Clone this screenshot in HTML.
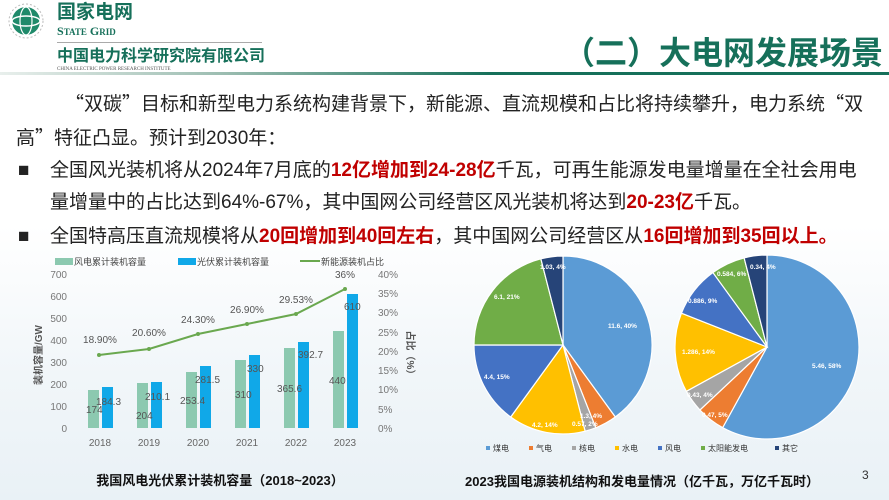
<!DOCTYPE html>
<html><head><meta charset="utf-8">
<style>
html,body{margin:0;padding:0}
body{width:889px;height:500px;position:relative;overflow:hidden;background:linear-gradient(180deg,#fff 0%,#fff 45%,#f1f6f9 75%,#e9f1f6 100%);font-family:"Liberation Sans","Noto Sans CJK SC",sans-serif;color:#222}
.a{position:absolute;white-space:nowrap}
.t{font-size:19px;line-height:20px}
.q{font-family:"Noto Sans CJK SC",sans-serif}
.r{color:#c00000;font-weight:bold}
</style></head><body>
<!-- logo -->
<svg class="a" style="left:6px;top:3px" width="40" height="36"><circle cx="20" cy="18" r="14" fill="#1f8a6a"/><ellipse cx="20" cy="18" rx="14" ry="5" fill="none" stroke="#fff" stroke-width="1.5"/><ellipse cx="20" cy="18" rx="6" ry="14" fill="none" stroke="#fff" stroke-width="1.2"/><circle cx="20" cy="18" r="17" fill="none" stroke="#bbb" stroke-width="1" stroke-dasharray="2 2"/></svg>
<div class="a" style="left:57px;top:2px;font-size:19px;font-weight:bold;color:#16705a;line-height:22px">国家电网</div>
<div class="a" style="left:57px;top:25px;font-size:12px;font-weight:bold;color:#16705a;font-family:'Liberation Serif',serif;line-height:12px">S<span style="font-size:9px">TATE</span> G<span style="font-size:9px">RID</span></div>
<div class="a" style="left:57px;top:42px;width:205px;height:1px;background:#aaa"></div>
<div class="a" style="left:57px;top:48px;font-size:16px;font-weight:bold;color:#16705a;line-height:18px">中国电力科学研究院有限公司</div>
<div class="a" style="left:57px;top:67px;font-size:5px;color:#555;line-height:6px;font-family:'Liberation Serif',serif">CHINA ELECTRIC POWER RESEARCH INSTITUTE</div>
<div class="a" style="left:0;top:72px;width:889px;height:3px;background:linear-gradient(90deg,#e8efec 0%,#9cbdb1 25%,#16705a 55%,#16705a 100%)"></div>
<div class="a" style="left:563px;top:35px;font-size:32px;font-weight:bold;color:#16705a;line-height:36px">（二）大电网发展场景</div>
<!-- text -->
<div class="a t" style="left:65px;top:93px"><span class="q">“</span>双碳<span class="q">”</span>目标和新型电力系统构建背景下，新能源、直流规模和占比将持续攀升，电力系统<span class="q">“</span>双</div>
<div class="a t" style="left:16px;top:127px">高<span class="q">”</span>特征凸显。预计到2030年：</div>
<div class="a t" style="left:18px;top:161px">■</div>
<div class="a t" style="left:50px;top:161px">全国风光装机将从2024年7月底的<span class="r">12亿增加到24-28亿</span>千瓦，可再生能源发电量增量在全社会用电</div>
<div class="a t" style="left:50px;top:193px">量增量中的占比达到64%-67%，其中国网公司经营区风光装机将达到<span class="r">20-23亿</span>千瓦。</div>
<div class="a t" style="left:18px;top:227px">■</div>
<div class="a t" style="left:50px;top:227px">全国特高压直流规模将从<span class="r">20回增加到40回左右</span>，其中国网公司经营区从<span class="r">16回增加到35回以上。</span></div>
<!-- bar chart -->
<svg class="a" style="left:0;top:250px" width="440" height="250" font-family="Liberation Sans,Noto Sans CJK SC,sans-serif">
<rect x="55" y="8" width="18" height="7" fill="#8cc9b0"/><text x="74" y="15" font-size="9" fill="#444">风电累计装机容量</text>
<rect x="178" y="8" width="18" height="7" fill="#10a8e8"/><text x="197" y="15" font-size="9" fill="#444">光伏累计装机容量</text>
<line x1="300" y1="11" x2="320" y2="11" stroke="#6aa84f" stroke-width="2"/><text x="321" y="15" font-size="9" fill="#444">新能源装机占比</text>
<g font-size="10" fill="#777" text-anchor="end">
<text x="67" y="28">700</text><text x="67" y="50">600</text><text x="67" y="72">500</text><text x="67" y="94">400</text><text x="67" y="116">300</text><text x="67" y="138">200</text><text x="67" y="160">100</text><text x="67" y="182">0</text>
</g>
<g font-size="10" fill="#777">
<text x="378" y="28">40%</text><text x="378" y="47">35%</text><text x="378" y="66">30%</text><text x="378" y="86">25%</text><text x="378" y="105">20%</text><text x="378" y="124">15%</text><text x="378" y="143">10%</text><text x="378" y="163">5%</text><text x="378" y="182">0%</text>
</g>
<text transform="translate(42,105) rotate(-90)" font-size="10" fill="#555" text-anchor="middle" font-weight="bold">装机容量/GW</text>
<text transform="translate(407,105) rotate(90)" font-size="10" fill="#555" text-anchor="middle" font-weight="bold">占比（%）</text>
<g fill="#8cc9b0">
<rect x="88" y="140" width="11" height="38"/><rect x="137" y="133" width="11" height="45"/><rect x="186" y="122" width="11" height="56"/><rect x="235" y="110" width="11" height="68"/><rect x="284" y="98" width="11" height="80"/><rect x="333" y="81" width="11" height="97"/>
</g>
<g fill="#10a8e8">
<rect x="102" y="137" width="11" height="41"/><rect x="151" y="132" width="11" height="46"/><rect x="200" y="116" width="11" height="62"/><rect x="249" y="105" width="11" height="73"/><rect x="298" y="92" width="11" height="86"/><rect x="347" y="44" width="11" height="134"/>
</g>
<g font-size="10" fill="#555">
<text x="86" y="163">174</text><text x="96" y="155">184.3</text>
<text x="136" y="169">204</text><text x="145" y="150">210.1</text>
<text x="180" y="154">253.4</text><text x="195" y="133">281.5</text>
<text x="235" y="148">310</text><text x="247" y="122">330</text>
<text x="277" y="142">365.6</text><text x="298" y="108">392.7</text>
<text x="329" y="134">440</text><text x="344" y="60">610</text>
</g>
<polyline points="99,105 149,99 198,84 247,74 296,64 345,39" fill="none" stroke="#6aa84f" stroke-width="2"/>
<g fill="#6aa84f"><circle cx="99" cy="105" r="2"/><circle cx="149" cy="99" r="2"/><circle cx="198" cy="84" r="2"/><circle cx="247" cy="74" r="2"/><circle cx="296" cy="64" r="2"/><circle cx="345" cy="39" r="2"/></g>
<g font-size="10" fill="#555" text-anchor="middle">
<text x="100" y="93">18.90%</text><text x="149" y="86">20.60%</text><text x="198" y="73">24.30%</text><text x="247" y="63">26.90%</text><text x="296" y="53">29.53%</text><text x="345" y="28">36%</text>
</g>
<g font-size="10" fill="#666" text-anchor="middle">
<text x="100" y="196">2018</text><text x="149" y="196">2019</text><text x="198" y="196">2020</text><text x="247" y="196">2021</text><text x="296" y="196">2022</text><text x="345" y="196">2023</text>
</g>
<text x="220" y="235" font-size="13" font-weight="bold" fill="#111" text-anchor="middle">我国风电光伏累计装机容量（2018~2023）</text>
</svg>
<!-- pies -->
<svg id="pies" class="a" style="left:440px;top:250px" width="449" height="250" font-family="Liberation Sans,Noto Sans CJK SC,sans-serif">
<g id="p1"></g><g id="p2"></g>
<g font-size="6.5" fill="#fff" font-weight="bold">
<text x="168" y="78">11.6, 40%</text><text x="54" y="49">6.1, 21%</text><text x="100" y="19">1.03, 4%</text><text x="44" y="129">4.4, 15%</text><text x="92" y="177">4.2, 14%</text><text x="140" y="168">1.3, 4%</text><text x="132" y="176">0.57, 2%</text>
<text x="372" y="118">5.46, 58%</text><text x="242" y="104">1.286, 14%</text><text x="248" y="53">0.886, 9%</text><text x="277" y="26">0.584, 6%</text><text x="310" y="19">0.34, 4%</text><text x="247" y="147">0.43, 4%</text><text x="262" y="167">0.47, 5%</text>
</g>
<g font-size="8" fill="#333">
<rect x="46" y="196" width="4" height="4" fill="#5b9bd5"/><text x="53" y="201">煤电</text>
<rect x="89" y="196" width="4" height="4" fill="#ed7d31"/><text x="96" y="201">气电</text>
<rect x="132" y="196" width="4" height="4" fill="#a5a5a5"/><text x="139" y="201">核电</text>
<rect x="175" y="196" width="4" height="4" fill="#ffc000"/><text x="182" y="201">水电</text>
<rect x="218" y="196" width="4" height="4" fill="#4472c4"/><text x="225" y="201">风电</text>
<rect x="261" y="196" width="4" height="4" fill="#70ad47"/><text x="268" y="201">太阳能发电</text>
<rect x="335" y="196" width="4" height="4" fill="#264478"/><text x="342" y="201">其它</text>
</g>
<text x="202" y="236" font-size="13" font-weight="bold" fill="#111" text-anchor="middle">2023我国电源装机结构和发电量情况（亿千瓦，万亿千瓦时）</text>
<text x="422" y="229" font-size="12" fill="#333">3</text>
</svg>
<script>
var C=["#5b9bd5","#ed7d31","#a5a5a5","#ffc000","#4472c4","#70ad47","#264478"];
function pie(id,cx,cy,r,v){var g=document.getElementById(id),a=0,s="";
for(var i=0;i<v.length;i++){var a0=a;a+=v[i]/100*2*Math.PI;
var x0=cx+r*Math.sin(a0),y0=cy-r*Math.cos(a0),x1=cx+r*Math.sin(a),y1=cy-r*Math.cos(a);
s+='<path d="M'+cx+','+cy+'L'+x0.toFixed(2)+','+y0.toFixed(2)+'A'+r+','+r+' 0 '+(v[i]>50?1:0)+' 1 '+x1.toFixed(2)+','+y1.toFixed(2)+'Z" fill="'+C[i]+'" stroke="#fff" stroke-width="1.2"/>';}
g.innerHTML=s;}
pie("p1",123,95,89,[40,4,2,14,15,21,4]);
pie("p2",327,97,92,[58,5,4,14,9,6,4]);
</script>
</body></html>
